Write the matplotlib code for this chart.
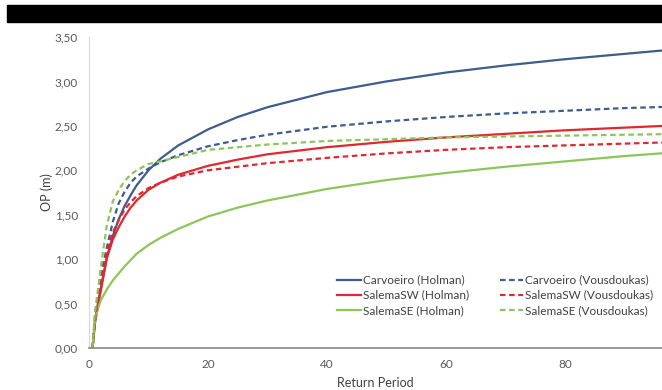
import numpy as np
import matplotlib
matplotlib.use('Agg')
import matplotlib.pyplot as plt
from matplotlib.patches import Rectangle
from matplotlib.ticker import FuncFormatter

plt.rcParams['font.family'] = ['Lato', 'DejaVu Sans']

# return periods (years) and OP values
return_period = [0.6, 1, 1.5, 2, 3, 4, 5, 6, 7, 8, 10, 12, 15, 20, 25, 30, 40, 50, 60, 70, 80, 90, 100]

carvoeiro_holman = [0, 0.30, 0.50, 0.68, 1.02, 1.26, 1.45, 1.60, 1.72, 1.83, 2.00, 2.13, 2.28,
                    2.46, 2.60, 2.71, 2.88, 3.00, 3.10, 3.18, 3.25, 3.31, 3.37]
salemasw_holman = [0, 0.28, 0.48, 0.65, 1.01, 1.22, 1.36, 1.48, 1.58, 1.66, 1.78, 1.86, 1.95,
                   2.05, 2.12, 2.18, 2.26, 2.32, 2.37, 2.41, 2.45, 2.48, 2.51]
salemase_holman = [0, 0.32, 0.44, 0.54, 0.66, 0.76, 0.84, 0.92, 0.99, 1.06, 1.16, 1.24, 1.34,
                   1.48, 1.58, 1.66, 1.79, 1.89, 1.97, 2.04, 2.10, 2.16, 2.21]
carvoeiro_vous = [0, 0.35, 0.62, 0.82, 1.13, 1.42, 1.63, 1.76, 1.86, 1.93, 2.02, 2.09, 2.17,
                  2.27, 2.34, 2.40, 2.49, 2.55, 2.60, 2.64, 2.67, 2.70, 2.72]
salemasw_vous = [0, 0.32, 0.55, 0.72, 1.08, 1.30, 1.44, 1.56, 1.64, 1.71, 1.80, 1.86, 1.93,
                 2.00, 2.04, 2.08, 2.14, 2.19, 2.23, 2.26, 2.28, 2.30, 2.32]
salemase_vous = [0, 0.40, 0.65, 0.92, 1.38, 1.65, 1.78, 1.88, 1.95, 2.00, 2.07, 2.10, 2.15,
                 2.23, 2.26, 2.29, 2.33, 2.35, 2.37, 2.38, 2.39, 2.40, 2.41]

blue = '#3E5C8C'
red = '#E0282E'
green = '#8DC55A'
dash = (0, (2.5, 1.6))

fig = plt.figure(figsize=(6.62, 3.90), dpi=100)
ax = fig.add_axes([89 / 662, 1 - 348 / 390, 1 - 89 / 662, (348 - 37) / 390])

# black strip across the top
fig.patches.append(Rectangle((7 / 662, 1 - 22 / 390), 1, 17 / 390,
                             transform=fig.transFigure, color='black', zorder=0))

ax.plot(return_period, carvoeiro_holman, color=blue, lw=1.6, label='Carvoeiro (Holman)')
ax.plot(return_period, salemasw_holman, color=red, lw=1.6, label='SalemaSW (Holman)')
ax.plot(return_period, salemase_holman, color=green, lw=1.6, label='SalemaSE (Holman)')
ax.plot(return_period, carvoeiro_vous, color=blue, lw=1.6, ls=dash, label='Carvoeiro (Vousdoukas)')
ax.plot(return_period, salemasw_vous, color=red, lw=1.6, ls=dash, label='SalemaSW (Vousdoukas)')
ax.plot(return_period, salemase_vous, color=green, lw=1.6, ls=dash, label='SalemaSE (Vousdoukas)')

ax.set_xlim(0, 96.3)
ax.set_ylim(0, 3.5)
ax.set_xticks([0, 20, 40, 60, 80])
ax.set_yticks(np.arange(0, 3.51, 0.5))
ax.yaxis.set_major_formatter(FuncFormatter(lambda v, p: f'{v:.2f}'.replace('.', ',')))
ax.tick_params(length=0, labelsize=8.5, colors='#595959', pad=8)

for s in ['top', 'right']:
    ax.spines[s].set_visible(False)
ax.spines['left'].set_color('#D9D9D9')
ax.spines['bottom'].set_color('#868686')
ax.spines['bottom'].set_linewidth(1.2)

ax.set_xlabel('Return Period', fontsize=9, color='#404040', labelpad=5)
ax.set_ylabel('OP (m)', fontsize=9, color='#404040', labelpad=1)

ax.legend(ncol=2, loc='upper left', bbox_to_anchor=(0.415, 0.27), frameon=False,
          fontsize=8.5, handlelength=2.0, handletextpad=0.15, columnspacing=2.6,
          labelspacing=0.35, labelcolor='#404040')

fig.savefig('out.png', dpi=100)
